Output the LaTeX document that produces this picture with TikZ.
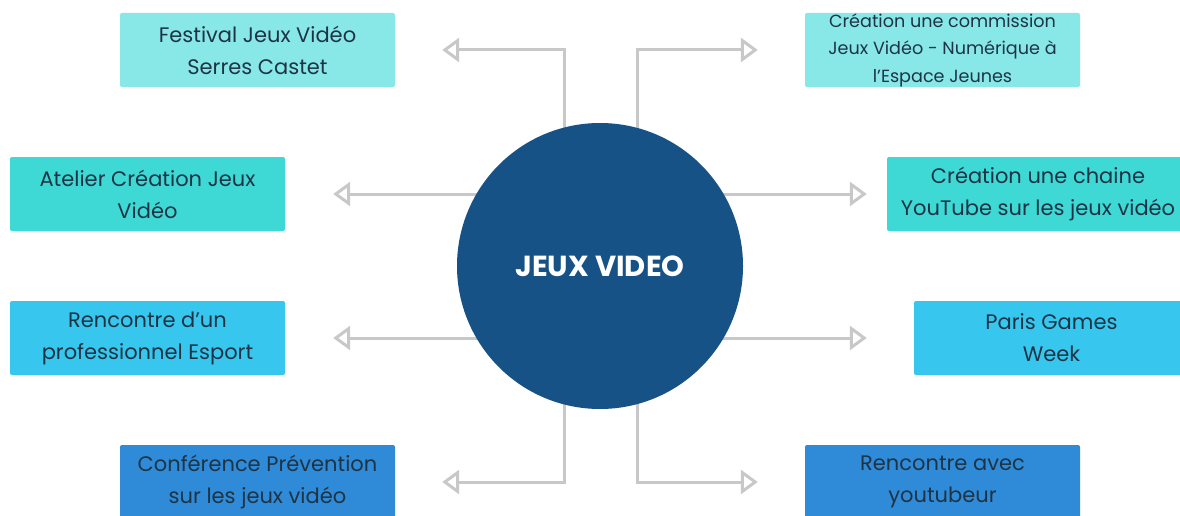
\documentclass[tikz,border=0pt]{standalone}
\usepackage{fontspec}
\setmainfont{Poppins}
\usetikzlibrary{arrows.meta}
\definecolor{cyanA}{HTML}{88E7E7}
\definecolor{turq}{HTML}{3ED8D5}
\definecolor{lblue}{HTML}{37C6EE}
\definecolor{mblue}{HTML}{2F8AD7}
\definecolor{hubblue}{HTML}{175287}
\definecolor{txt}{HTML}{1E3445}
\definecolor{conn}{HTML}{C8C8C8}
\tikzset{
  box/.style={rectangle, rounded corners=2pt, minimum height=74pt, minimum width=275pt,
    inner sep=0pt, align=center, text=txt, font=\fontsize{21}{32}\selectfont},
  link/.style={draw=conn, line width=3pt,
    -{Triangle[open, length=17pt, width=24pt, fill=white]}},
}
\begin{document}
\begin{tikzpicture}[x=1pt,y=-1pt]
\useasboundingbox (0,0) rectangle (1180,516);
\clip (0,0) rectangle (1180,516);
\fill[white] (0,0) rectangle (1180,516);
% boxes
\node[box, fill=cyanA] (fest) at (257.5,50) {Festival Jeux Vidéo\\Serres Castet};
\node[box, fill=cyanA, font=\fontsize{17.6}{27.5}\selectfont] (comm) at (942.5,50) {Création une commission\\Jeux Vidéo - Numérique à\\l’Espace Jeunes};
\node[box, fill=turq] (atel) at (147.5,194) {Atelier Création Jeux\\Vidéo};
\node[box, fill=turq, minimum width=302pt] (chaine) at (1038,194) {Création une chaine\\YouTube sur les jeux vidéo};
\node[box, fill=lblue] (renc) at (147.5,338) {Rencontre d’un\\professionnel Esport};
\node[box, fill=lblue] (paris) at (1051.5,338) {Paris Games\\Week};
\node[box, fill=mblue] (conf) at (257.5,482) {Conférence Prévention\\sur les jeux vidéo};
\node[box, fill=mblue] (yt) at (942.5,482) {Rencontre avec\\youtubeur};
% hub position
\coordinate (hc) at (600,266);
% connectors
\draw[link, shorten >=47pt] ([xshift=-36pt]hc) |- (fest.east);
\draw[link, shorten >=47pt] ([xshift=37pt]hc) |- (comm.west);
\draw[link, shorten >=47pt] ([xshift=-36pt]hc) |- (conf.east);
\draw[link, shorten >=47pt] ([xshift=37pt]hc) |- (yt.west);
\draw[link, shorten >=48pt] (hc |- atel) -- (atel.east);
\draw[link, shorten >=48pt] (hc |- renc) -- (renc.east);
\draw[link, shorten >=20pt] (hc |- chaine) -- (chaine.west);
\draw[link, shorten >=47pt] (hc |- paris) -- (paris.west);
% hub
\node[circle, fill=hubblue, minimum size=286pt, inner sep=0pt, text=white,
  font=\fontsize{29}{32}\selectfont\bfseries] (hub) at (hc) {JEUX VIDEO};
\end{tikzpicture}
\end{document}
